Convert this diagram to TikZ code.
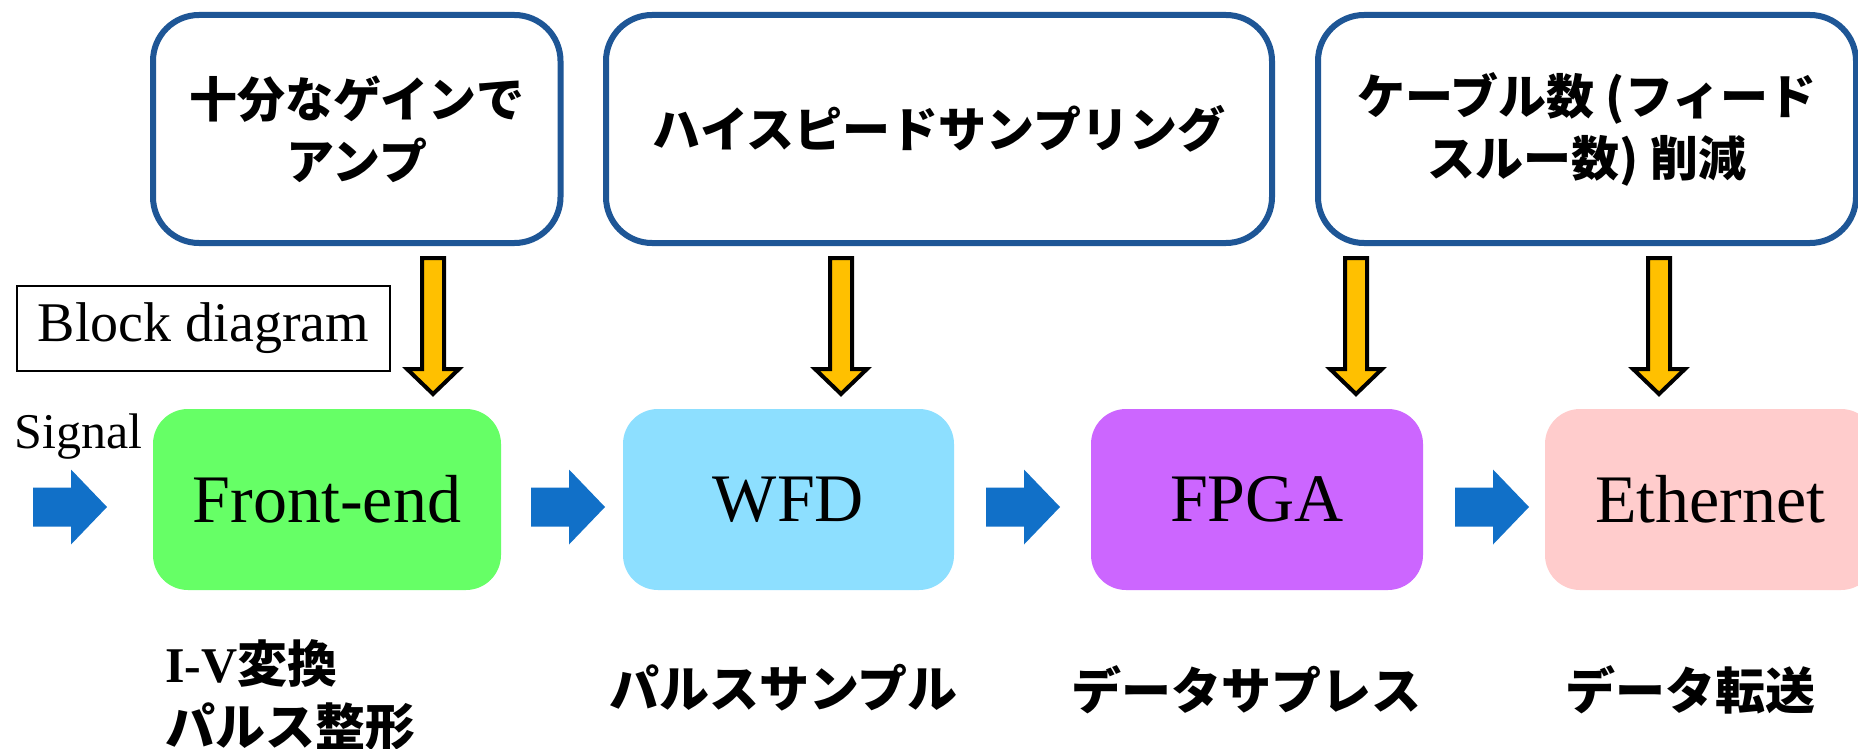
\documentclass[tikz,border=0pt]{standalone}
\usepackage{fontspec}
\setmainfont{Liberation Serif}
\newfontfamily\cjk{Noto Sans CJK JP}
\definecolor{topblue}{RGB}{30,86,150}
\definecolor{arrowyellow}{RGB}{255,192,0}
\definecolor{arrowblue}{RGB}{17,112,200}
\definecolor{fegreen}{RGB}{102,255,102}
\definecolor{wfdblue}{RGB}{141,223,255}
\definecolor{fpgapurple}{RGB}{204,102,255}
\definecolor{ethpink}{RGB}{255,204,204}
\newcommand\yellowarrow[1]{%
  \draw[yarrow] (#1-11,258) -- (#1+11,258) -- (#1+11,369) -- (#1+26,369) -- (#1,394) -- (#1-26,369) -- (#1-11,369) -- cycle;}
\newcommand\bluearrow[1]{%
  \fill[barrow] (#1,487.5) -- (#1+38,487.5) -- (#1+38,469.5) -- (#1+74,507) -- (#1+38,544.5) -- (#1+38,526.5) -- (#1,526.5) -- cycle;}
\begin{document}
\begin{tikzpicture}[x=0.5pt,y=-0.5pt,
  topbox/.style={draw=topblue, line width=3pt, rounded corners=23pt, minimum height=114pt, inner sep=0pt, align=center, font=\cjk\bfseries\fontsize{24}{31}\selectfont},
  procbox/.style={rounded corners=17.5pt, minimum height=90.5pt, inner sep=0pt, font=\fontsize{34}{40}\selectfont},
  cjklabel/.style={inner sep=0pt, align=center, font=\cjk\bfseries\fontsize{25}{31.5}\selectfont},
  yarrow/.style={fill=arrowyellow, draw=black, line width=2pt, line join=miter},
  barrow/.style={fill=arrowblue}
]
\useasboundingbox (0,0) rectangle (1858,749);
\fill[white] (0,0) rectangle (1858,749);
\clip (0,0) rectangle (1858,749);

% top boxes
\node[topbox, minimum width=203.75pt] (t1) at (356.75,129) {十分なゲインで\\アンプ};
\node[topbox, minimum width=333pt] (t2) at (939,129) {ハイスピードサンプリング};
\node[topbox, minimum width=269pt] (t3) at (1587,129) {ケーブル数 (フィード\\スルー数) 削減};

% block diagram label
\node[draw=black, line width=1.3pt, minimum width=186.5pt, minimum height=42.5pt, inner sep=0pt, font=\fontsize{28}{33}\selectfont] (bd) at (203.5,328.5) {Block diagram};

% yellow arrows
\yellowarrow{433}
\yellowarrow{841}
\yellowarrow{1356}
\yellowarrow{1659}

% signal
\node[anchor=base west, inner sep=0pt, font=\fontsize{25}{30}\selectfont] (sig) at (14,448) {Signal};

% process boxes
\node[procbox, fill=fegreen, minimum width=174pt] (fe) at (327,499.5) {Front-end};
\node[procbox, fill=wfdblue, minimum width=165.5pt] (wfd) at (788.5,499.5) {WFD};
\node[procbox, fill=fpgapurple, minimum width=166pt] (fpga) at (1257,499.5) {FPGA};
\node[procbox, fill=ethpink, minimum width=165.5pt] (eth) at (1710.5,499.5) {Ethernet};

% blue block arrows
\bluearrow{33}
\bluearrow{531}
\bluearrow{986}
\bluearrow{1455}

% bottom labels
\node[cjklabel, anchor=west, align=left] (l1) at (165,695.5) {{\rmfamily I-V}変換\\パルス整形};
\node[cjklabel] (l2) at (783.5,688) {パルスサンプル};
\node[cjklabel] (l3) at (1246,690) {データサプレス};
\node[cjklabel] (l4) at (1690,690) {データ転送};
\end{tikzpicture}
\end{document}
